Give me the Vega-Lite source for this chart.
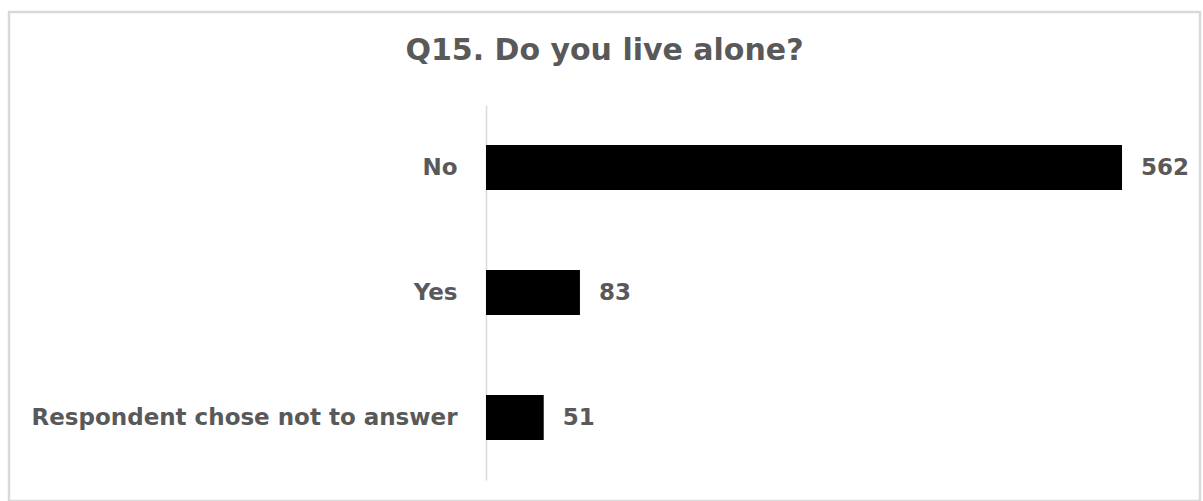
{
  "$schema": "https://vega.github.io/schema/vega-lite/v6.json",
  "autosize": {"type": "none"},
  "padding": {"left": 9, "top": 12, "right": 3, "bottom": 0},
  "width": 1191,
  "height": 489,
  "background": "white",
  "config": {
    "view": {"stroke": "#d9d9d9", "strokeWidth": 2.5},
    "font": "DejaVu Sans"
  },
  "title": {
    "text": "Q15. Do you live alone?",
    "anchor": "middle",
    "offset": -54,
    "fontSize": 30,
    "fontWeight": "bold",
    "color": "#595959",
    "font": "DejaVu Sans"
  },
  "data": {
    "values": [
      {"answer": "No", "count": 562},
      {"answer": "Yes", "count": 83},
      {"answer": "Respondent chose not to answer", "count": 51}
    ]
  },
  "encoding": {
    "y": {
      "field": "answer",
      "type": "nominal",
      "sort": null,
      "scale": {"range": [93, 468], "paddingInner": 0.64, "paddingOuter": 0.32},
      "axis": {
        "title": null,
        "offset": -477,
        "ticks": false,
        "domainColor": "#d9d9d9",
        "domainWidth": 1.5,
        "labelPadding": 29,
        "labelFont": "DejaVu Sans",
        "labelFontSize": 23,
        "labelFontWeight": "bold",
        "labelColor": "#595959",
        "labelLimit": 0
      }
    },
    "x": {
      "field": "count",
      "type": "quantitative",
      "scale": {"domain": [-421.5, 630.9], "nice": false, "zero": false},
      "axis": null
    }
  },
  "layer": [
    {"mark": {"type": "bar", "color": "black"}},
    {
      "mark": {"type": "text", "align": "left", "baseline": "middle", "dx": 19, "font": "DejaVu Sans", "fontSize": 23, "fontWeight": "bold", "color": "#595959"},
      "encoding": {"text": {"field": "count", "type": "quantitative"}}
    }
  ]
}
